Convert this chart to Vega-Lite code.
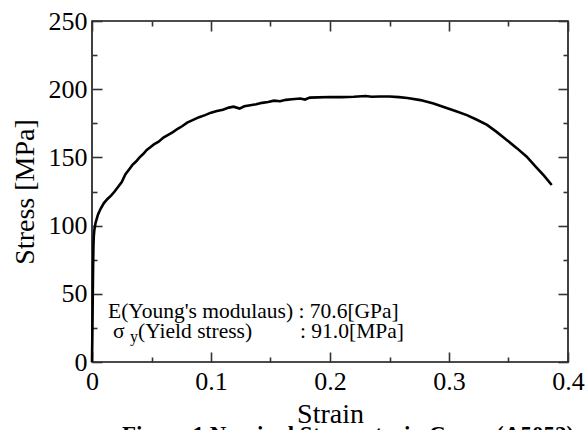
{
  "$schema": "https://vega.github.io/schema/vega-lite/v6.json",
  "width": 476,
  "height": 341,
  "autosize": "none",
  "padding": {"left": 92, "top": 21, "right": 19, "bottom": 68},
  "background": "white",
  "config": {
    "view": {"stroke": "#111", "strokeWidth": 1.6},
    "font": "Liberation Serif",
    "text": {"font": "Liberation Serif"},
    "axis": {
      "labelFont": "Liberation Serif",
      "labelFontSize": 26,
      "labelColor": "black",
      "titleFont": "Liberation Serif",
      "titleFontSize": 28,
      "titleFontWeight": "normal",
      "titleColor": "black",
      "domain": false,
      "ticks": true,
      "grid": false,
      "labelFlush": false,
      "labelOverlap": false
    }
  },
  "title": {
    "text": "Figure 1   Nominal Stress-strain Curve (A5052)",
    "orient": "bottom",
    "font": "Liberation Serif",
    "fontSize": 23,
    "fontWeight": "bold",
    "color": "black",
    "anchor": "middle",
    "baseline": "top",
    "offset": -9,
    "dx": 18,
    "dy": 5
  },
  "datasets": {
    "curve": [
      {"strain": 0, "stress": 0},
      {"strain": 0.0003, "stress": 20},
      {"strain": 0.0006, "stress": 45},
      {"strain": 0.0009, "stress": 68},
      {"strain": 0.0012, "stress": 85},
      {"strain": 0.0015, "stress": 92},
      {"strain": 0.002, "stress": 97},
      {"strain": 0.003, "stress": 102},
      {"strain": 0.005, "stress": 108},
      {"strain": 0.007, "stress": 112},
      {"strain": 0.010, "stress": 116.5},
      {"strain": 0.013, "stress": 119.5},
      {"strain": 0.016, "stress": 122},
      {"strain": 0.019, "stress": 125},
      {"strain": 0.022, "stress": 128.5},
      {"strain": 0.025, "stress": 132},
      {"strain": 0.028, "stress": 137.5},
      {"strain": 0.031, "stress": 141},
      {"strain": 0.034, "stress": 144.5},
      {"strain": 0.037, "stress": 147},
      {"strain": 0.040, "stress": 150},
      {"strain": 0.043, "stress": 152.5},
      {"strain": 0.046, "stress": 155.5},
      {"strain": 0.049, "stress": 157.5},
      {"strain": 0.052, "stress": 159.5},
      {"strain": 0.056, "stress": 161.5},
      {"strain": 0.060, "stress": 164.5},
      {"strain": 0.064, "stress": 166.5},
      {"strain": 0.068, "stress": 168.5},
      {"strain": 0.072, "stress": 171},
      {"strain": 0.076, "stress": 173},
      {"strain": 0.080, "stress": 175.5},
      {"strain": 0.085, "stress": 177.5},
      {"strain": 0.090, "stress": 179.5},
      {"strain": 0.095, "stress": 181},
      {"strain": 0.100, "stress": 182.8},
      {"strain": 0.105, "stress": 184},
      {"strain": 0.110, "stress": 185},
      {"strain": 0.115, "stress": 186.5},
      {"strain": 0.119, "stress": 187.2},
      {"strain": 0.124, "stress": 185.8},
      {"strain": 0.128, "stress": 187.5},
      {"strain": 0.133, "stress": 188.3},
      {"strain": 0.138, "stress": 189},
      {"strain": 0.143, "stress": 190},
      {"strain": 0.148, "stress": 190.6},
      {"strain": 0.153, "stress": 191.6},
      {"strain": 0.158, "stress": 191.2},
      {"strain": 0.163, "stress": 192.2},
      {"strain": 0.168, "stress": 192.6},
      {"strain": 0.175, "stress": 193.2},
      {"strain": 0.179, "stress": 192.4},
      {"strain": 0.183, "stress": 193.8},
      {"strain": 0.190, "stress": 194},
      {"strain": 0.200, "stress": 194.3},
      {"strain": 0.210, "stress": 194.2},
      {"strain": 0.220, "stress": 194.5},
      {"strain": 0.230, "stress": 195},
      {"strain": 0.235, "stress": 194.5},
      {"strain": 0.242, "stress": 194.7},
      {"strain": 0.250, "stress": 194.6},
      {"strain": 0.258, "stress": 194.2},
      {"strain": 0.265, "stress": 193.5},
      {"strain": 0.276, "stress": 192},
      {"strain": 0.287, "stress": 189.5},
      {"strain": 0.298, "stress": 186.2},
      {"strain": 0.306, "stress": 183.8},
      {"strain": 0.315, "stress": 181},
      {"strain": 0.323, "stress": 177.8},
      {"strain": 0.332, "stress": 173.8},
      {"strain": 0.340, "stress": 168.7},
      {"strain": 0.3485, "stress": 162.8},
      {"strain": 0.357, "stress": 156.8},
      {"strain": 0.3653, "stress": 150.5},
      {"strain": 0.373, "stress": 143},
      {"strain": 0.380, "stress": 136.5},
      {"strain": 0.3863, "stress": 129.8}
    ],
    "line1": [
      {"x": 0.01345, "y": 32.3, "label": "E(Young's modulaus) : 70.6[GPa]"}
    ],
    "line2": [
      {"x": 0.0177, "y": 17.6, "label": "σ"},
      {"x": 0.0387, "y": 17.6, "label": "(Yield stress)"},
      {"x": 0.1748, "y": 17.6, "label": ": 91.0[MPa]"}
    ],
    "subs": [
      {"x": 0.0319, "y": 14.8, "label": "y"}
    ]
  },
  "layer": [
    {
      "data": {"name": "curve"},
      "mark": {"type": "line", "color": "black", "strokeWidth": 2.6, "interpolate": "linear"},
      "encoding": {
        "x": {
          "field": "strain", "type": "quantitative",
          "scale": {"domain": [0, 0.4], "nice": false, "zero": false},
          "axis": {
            "orient": "bottom", "title": "Strain", "titlePadding": 6,
            "values": [0, 0.1, 0.2, 0.3, 0.4],
            "format": ".1~f",
            "offset": -10, "tickSize": 10,
            "tickColor": "#333", "tickWidth": 1.6,
            "labelPadding": 6
          }
        },
        "y": {
          "field": "stress", "type": "quantitative",
          "scale": {"domain": [0, 250], "nice": false},
          "axis": {
            "orient": "left", "title": "Stress [MPa]", "titlePadding": 9,
            "values": [0, 50, 100, 150, 200, 250],
            "offset": -10, "tickSize": 10,
            "tickColor": "#333", "tickWidth": 1.6,
            "labelPadding": 5
          }
        }
      }
    },
    {
      "data": {"name": "line1"},
      "mark": {"type": "text", "align": "left", "baseline": "alphabetic", "fontSize": 21.5, "color": "black"},
      "encoding": {
        "x": {
          "field": "x", "type": "quantitative",
          "axis": {"orient": "top", "title": null, "labels": false, "values": [0, 0.1, 0.2, 0.3, 0.4], "offset": -10, "tickSize": 10, "tickColor": "#333", "tickWidth": 1.6}
        },
        "y": {
          "field": "y", "type": "quantitative",
          "axis": {"orient": "right", "title": null, "labels": false, "values": [0, 50, 100, 150, 200, 250], "offset": -10, "tickSize": 10, "tickColor": "#333", "tickWidth": 1.6}
        },
        "text": {"field": "label"}
      }
    },
    {
      "data": {"name": "line2"},
      "mark": {"type": "text", "align": "left", "baseline": "alphabetic", "fontSize": 21.5, "color": "black"},
      "encoding": {
        "x": {
          "field": "x", "type": "quantitative",
          "axis": {"orient": "bottom", "title": null, "labels": false, "values": [0.05, 0.15, 0.25, 0.35], "offset": -5, "tickSize": 5, "tickColor": "#333", "tickWidth": 1.6}
        },
        "y": {
          "field": "y", "type": "quantitative",
          "axis": {"orient": "left", "title": null, "labels": false, "values": [25, 75, 125, 175, 225], "offset": -5, "tickSize": 5, "tickColor": "#333", "tickWidth": 1.6}
        },
        "text": {"field": "label"}
      }
    },
    {
      "data": {"name": "subs"},
      "mark": {"type": "text", "align": "left", "baseline": "alphabetic", "fontSize": 16, "color": "black"},
      "encoding": {
        "x": {
          "field": "x", "type": "quantitative",
          "axis": {"orient": "top", "title": null, "labels": false, "values": [0.05, 0.15, 0.25, 0.35], "offset": -5, "tickSize": 5, "tickColor": "#333", "tickWidth": 1.6}
        },
        "y": {
          "field": "y", "type": "quantitative",
          "axis": {"orient": "right", "title": null, "labels": false, "values": [25, 75, 125, 175, 225], "offset": -5, "tickSize": 5, "tickColor": "#333", "tickWidth": 1.6}
        },
        "text": {"field": "label"}
      }
    }
  ],
  "resolve": {"axis": {"x": "independent", "y": "independent"}}
}
